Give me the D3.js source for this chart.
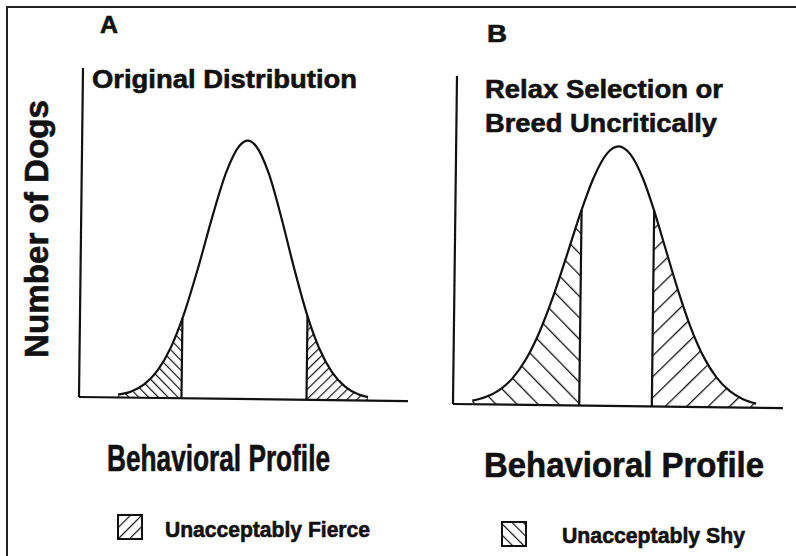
<!DOCTYPE html>
<html>
<head>
<meta charset="utf-8">
<script src="https://cdn.jsdelivr.net/npm/d3@7"></script>
<style>
  body { margin: 0; background: #fff; }
  text { font-family: "Liberation Sans", Arial, sans-serif; font-weight: bold; fill: #111; stroke: #111; stroke-width: 0.6px; }
</style>
</head>
<body>
<div id="p"></div>
<script>
// panel A: original distribution (profile score 0-100, number of dogs 0-100)
var profA = [12, 16, 20, 24, 28, 31.3, 36, 40, 44, 48, 50.5, 53, 57, 61, 65, 69.3, 73, 77, 81, 85, 88];
var dogsA = [0.7, 1.7, 4.0, 8.3, 15.5, 24.1, 40.0, 55.1, 68.5, 76.8, 78.4, 76.8, 68.5, 55.1, 40.0, 25.3, 15.5, 8.3, 4.0, 1.7, 0.9];
var cutA = [31.3, 69.3];

// panel B: relaxed selection
var profB = [6, 10, 14, 18, 22, 26, 30, 34, 38.4, 42, 46, 49.4, 53, 57, 60.4, 64, 68, 72, 76, 80, 84, 88, 92];
var dogsB = [0.95, 2.1, 4.2, 7.8, 13.6, 21.9, 32.7, 45.3, 59.5, 69.5, 76.9, 79.0, 76.6, 69.0, 59.5, 47.9, 35.1, 23.8, 15.0, 8.8, 4.8, 2.4, 1.1];
var cutB = [38.4, 60.4];

var panelNames = ["A", "B"];
var panelTitles = [["Original Distribution"], ["Relax Selection or", "Breed Uncritically"]];
var xLabel = "Behavioral Profile";
var yLabel = "Number of Dogs";
var legendLabels = ["Unacceptably Fierce", "Unacceptably Shy"];

var svg = d3.select("#p").append("svg")
    .attr("width", 796)
    .attr("height", 556);

svg.append("rect").attr("width", 796).attr("height", 556).attr("fill", "#fff");

// hatch patterns: "/" = fierce, "\" = shy
var defs = svg.append("defs");
function hatch(id, size, angle, sw) {
  defs.append("pattern")
      .attr("id", id)
      .attr("patternUnits", "userSpaceOnUse")
      .attr("width", size).attr("height", size)
      .attr("patternTransform", "rotate(" + angle + ")")
    .append("line")
      .attr("x1", 0).attr("y1", 0).attr("x2", 0).attr("y2", size)
      .attr("stroke", "#111").attr("stroke-width", sw);
}
hatch("fierceA", 7, 45, 2.4);
hatch("shyA", 7, -45, 2.4);
hatch("fierceB", 15, 45, 2.6);
hatch("shyB", 15, -45, 2.6);
hatch("fierceL", 8, 45, 2.4);
hatch("shyL", 8, -45, 2.4);

// page frame (scan edge)
svg.append("path")
    .attr("d", "M7,556V7H796")
    .attr("fill", "none").attr("stroke", "#222").attr("stroke-width", 2);

function drawPanel(cfg) {
  var pts = cfg.prof.map(function(v, i) { return {x: v, y: cfg.dogs[i]}; });

  var x = d3.scaleLinear().domain([0, 100]).range([0, cfg.w]);
  var y = d3.scaleLinear().domain([0, 100]).range([0, -cfg.h]);

  var g = svg.append("g")
      .attr("transform", "translate(" + cfg.ox + "," + cfg.oy + ") rotate(" + cfg.rot + ")");

  // tails
  var area = d3.area()
      .x(function(d) { return x(d.x); })
      .y0(y(0))
      .y1(function(d) { return y(d.y); })
      .curve(d3.curveMonotoneX);

  g.append("path")
      .datum(pts.filter(function(d) { return d.x <= cfg.cut[0]; }))
      .attr("d", area)
      .attr("fill", "url(#" + cfg.shy + ")");
  g.append("path")
      .datum(pts.filter(function(d) { return d.x >= cfg.cut[1]; }))
      .attr("d", area)
      .attr("fill", "url(#" + cfg.fierce + ")");

  // cutoff verticals
  g.selectAll("line.cut")
      .data(cfg.cut.map(function(c) { return pts.find(function(d) { return d.x === c; }); }))
      .enter().append("line")
      .attr("class", "cut")
      .attr("x1", function(d) { return x(d.x); })
      .attr("x2", function(d) { return x(d.x); })
      .attr("y1", y(0))
      .attr("y2", function(d) { return y(d.y); })
      .attr("stroke", "#111").attr("stroke-width", 2.2);

  // the bell curve
  var line = d3.line()
      .x(function(d) { return x(d.x); })
      .y(function(d) { return y(d.y); })
      .curve(d3.curveMonotoneX);
  g.append("path")
      .datum(pts)
      .attr("d", line)
      .attr("fill", "none")
      .attr("stroke", "#111")
      .attr("stroke-width", 2.2);

  // axes, no ticks
  var xAxis = g.append("g").call(d3.axisBottom(x).tickValues([]).tickSizeOuter(0));
  var yAxis = g.append("g").call(d3.axisLeft(y).tickValues([]).tickSizeOuter(0));
  [xAxis, yAxis].forEach(function(a) {
    a.select(".domain").attr("stroke", "#111").attr("stroke-width", 2.2);
  });
}

drawPanel({prof: profA, dogs: dogsA, cut: cutA, ox: 78.5, oy: 396.5, w: 329, h: 329, rot: 0.7,
           shy: "shyA", fierce: "fierceA"});
drawPanel({prof: profB, dogs: dogsB, cut: cutB, ox: 452.5, oy: 403.5, w: 330, h: 328, rot: 0.7,
           shy: "shyB", fierce: "fierceB"});

// labels
function label(t, x, y, size, len) {
  return svg.append("text")
      .attr("x", x).attr("y", y)
      .attr("font-size", size)
      .attr("textLength", len)
      .attr("lengthAdjust", "spacingAndGlyphs")
      .text(t);
}

label(panelNames[0], 100, 33, 24, 18);
label(panelNames[1], 487, 42, 24, 20);
label(panelTitles[0][0], 92, 88, 26, 265);
label(panelTitles[1][0], 485, 98, 26, 238);
label(panelTitles[1][1], 485, 132, 26, 232);
label(xLabel, 107, 471, 36, 223);
label(xLabel, 484, 477, 35, 280);

svg.append("text")
    .attr("transform", "translate(48,229) rotate(-90)")
    .attr("text-anchor", "middle")
    .attr("font-size", 33)
    .attr("textLength", 258)
    .attr("lengthAdjust", "spacingAndGlyphs")
    .text(yLabel);

// legend
var legend = [
  {label: legendLabels[0], fill: "fierceL", x: 118, y: 515, tx: 165, ty: 537, len: 205},
  {label: legendLabels[1], fill: "shyL", x: 502, y: 522, tx: 562, ty: 543, len: 183}
];
legend.forEach(function(l) {
  svg.append("rect")
      .attr("x", l.x).attr("y", l.y).attr("width", 24).attr("height", 24)
      .attr("fill", "url(#" + l.fill + ")")
      .attr("stroke", "#111").attr("stroke-width", 2);
  label(l.label, l.tx, l.ty, 22, l.len);
});
</script>
</body>
</html>
